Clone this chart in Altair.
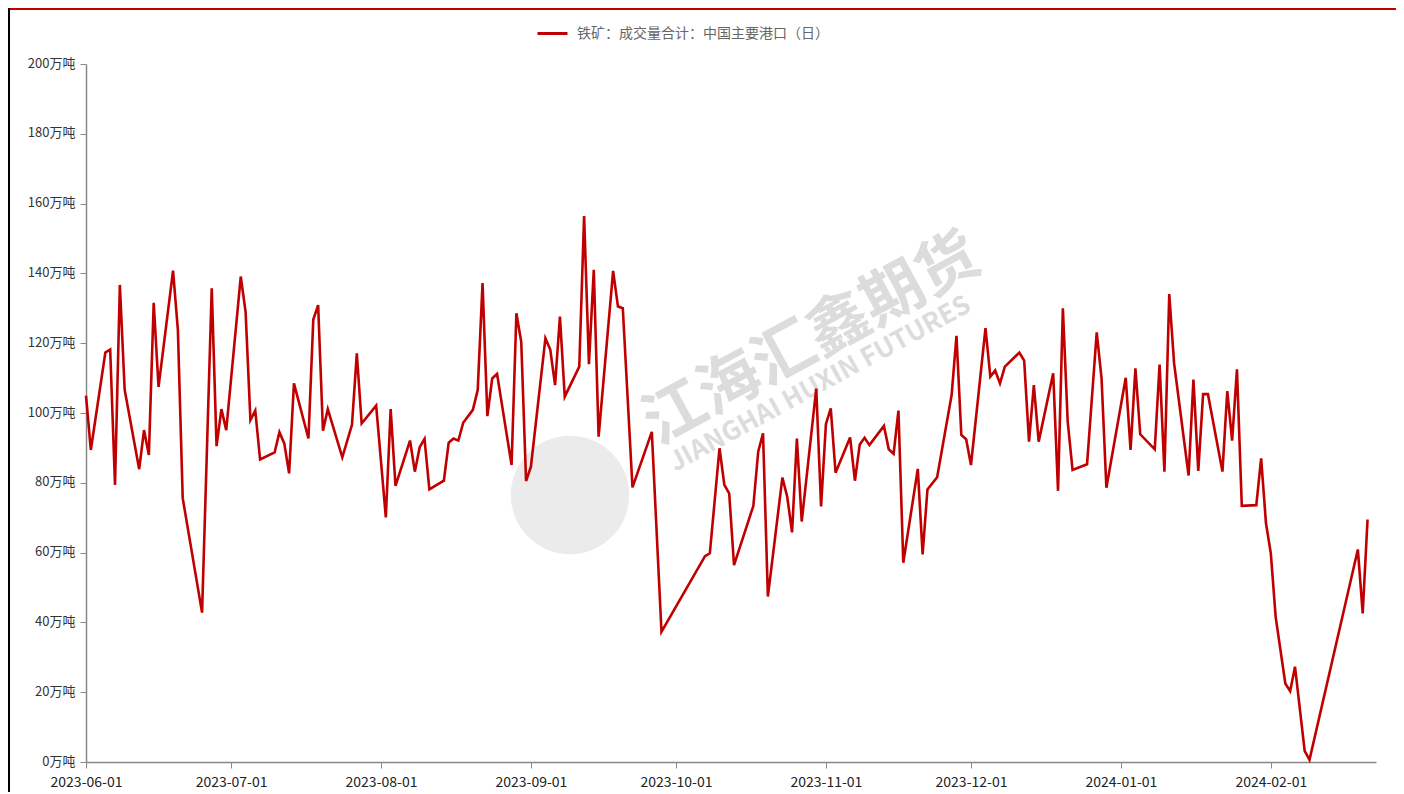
import altair as alt
import pandas as pd

# ---------------- data ----------------
series_name = "铁矿：成交量合计：中国主要港口（日）"

dates = [
    "2023-06-01", "2023-06-02", "2023-06-05", "2023-06-06", "2023-06-07", "2023-06-08", "2023-06-09",
    "2023-06-12", "2023-06-13", "2023-06-14", "2023-06-15", "2023-06-16",
    "2023-06-19", "2023-06-20", "2023-06-21", "2023-06-25", "2023-06-27", "2023-06-28", "2023-06-29", "2023-06-30",
    "2023-07-03", "2023-07-04", "2023-07-05", "2023-07-06", "2023-07-07",
    "2023-07-10", "2023-07-11", "2023-07-12", "2023-07-13", "2023-07-14",
    "2023-07-17", "2023-07-18", "2023-07-19", "2023-07-20", "2023-07-21",
    "2023-07-24", "2023-07-26", "2023-07-27", "2023-07-28", "2023-07-31",
    "2023-08-02", "2023-08-03", "2023-08-04",
    "2023-08-07", "2023-08-08", "2023-08-09", "2023-08-10", "2023-08-11",
    "2023-08-14", "2023-08-15", "2023-08-16", "2023-08-17", "2023-08-18", "2023-08-20",
    "2023-08-21", "2023-08-22", "2023-08-23", "2023-08-24", "2023-08-25",
    "2023-08-28", "2023-08-29", "2023-08-30", "2023-08-31",
    "2023-09-01", "2023-09-04", "2023-09-05", "2023-09-06", "2023-09-07", "2023-09-08",
    "2023-09-11", "2023-09-12", "2023-09-13", "2023-09-14", "2023-09-15",
    "2023-09-18", "2023-09-19", "2023-09-20", "2023-09-22", "2023-09-26", "2023-09-28",
    "2023-10-07", "2023-10-08", "2023-10-10", "2023-10-11", "2023-10-12", "2023-10-13",
    "2023-10-17", "2023-10-18", "2023-10-19", "2023-10-20",
    "2023-10-23", "2023-10-24", "2023-10-25", "2023-10-26", "2023-10-27",
    "2023-10-30", "2023-10-31",
    "2023-11-01", "2023-11-02", "2023-11-03",
    "2023-11-06", "2023-11-07", "2023-11-08", "2023-11-09", "2023-11-10",
    "2023-11-13", "2023-11-14", "2023-11-15", "2023-11-16", "2023-11-17",
    "2023-11-20", "2023-11-21", "2023-11-22", "2023-11-24",
    "2023-11-27", "2023-11-28", "2023-11-29", "2023-11-30",
    "2023-12-01", "2023-12-04", "2023-12-05", "2023-12-06", "2023-12-07", "2023-12-08",
    "2023-12-11", "2023-12-12", "2023-12-13", "2023-12-14", "2023-12-15",
    "2023-12-18", "2023-12-19", "2023-12-20", "2023-12-21", "2023-12-22",
    "2023-12-25", "2023-12-27", "2023-12-28", "2023-12-29",
    "2024-01-02", "2024-01-03", "2024-01-04", "2024-01-05",
    "2024-01-08", "2024-01-09", "2024-01-10", "2024-01-11", "2024-01-12",
    "2024-01-15", "2024-01-16", "2024-01-17", "2024-01-18", "2024-01-19",
    "2024-01-22", "2024-01-23", "2024-01-24", "2024-01-25", "2024-01-26",
    "2024-01-29", "2024-01-30", "2024-01-31",
    "2024-02-01", "2024-02-02", "2024-02-04", "2024-02-05", "2024-02-06", "2024-02-08", "2024-02-09",
    "2024-02-19", "2024-02-20", "2024-02-21",
]

values = [
    # 2023-06
    105.0, 89.4, 117.3, 118.2, 79.4, 136.7, 106.6, 83.9, 95.1, 88.0, 131.6, 107.5,
    140.8, 123.8, 75.6, 42.8, 135.7, 90.5, 101.1, 95.1,
    # 2023-07
    139.1, 129.0, 98.0, 100.7, 86.7, 88.7, 94.5, 91.3, 82.7, 108.5,
    92.7, 126.8, 130.9, 94.9, 101.1, 87.3, 96.6, 117.1, 97.0, 102.1,
    # 2023-08
    70.1, 101.1, 79.1, 92.1, 83.2, 90.2, 92.6, 78.1, 80.6, 91.5, 92.7, 92.1, 97.2, 100.9,
    106.6, 137.2, 99.1, 109.9, 111.2, 85.1, 128.6, 120.4, 80.5,
    # 2023-09
    84.6, 121.4, 118.2, 108.0, 127.6, 104.7, 113.3, 156.4, 114.0, 141.0, 93.2,
    140.7, 130.5, 130.0, 78.7, 94.6, 37.3,
    # 2023-10
    59.0, 59.8, 89.9, 79.4, 77.0, 56.4, 73.4, 88.9, 94.2, 47.4,
    81.5, 76.0, 65.8, 92.7, 68.9, 107.0, 73.2,
    # 2023-11
    96.8, 101.3, 82.9, 93.0, 80.6, 91.0, 92.9, 90.8, 96.3, 89.6, 88.3, 100.7, 57.1,
    84.0, 59.5, 78.1, 81.6, 105.2, 122.1, 93.7, 92.5,
    # 2023-12
    85.1, 124.3, 110.4, 112.2, 108.5, 113.3, 117.3, 115.0, 91.8, 108.0, 91.8,
    111.4, 77.7, 130.0, 97.5, 83.7, 85.3, 123.1, 109.9, 78.6,
    # 2024-01
    110.1, 89.4, 112.8, 93.9, 89.6, 113.9, 83.2, 134.1, 114.2, 82.1, 109.6, 83.4,
    105.4, 105.4, 83.2, 106.3, 92.1, 112.5, 73.4, 73.6, 87.0, 68.4,
    # 2024-02
    59.8, 41.6, 22.5, 20.3, 27.3, 3.2, 0.6, 60.9, 42.6, 69.5,
]

y_ticks = [0, 20, 40, 60, 80, 100, 120, 140, 160, 180, 200]
x_tick_dates = [(2023, 6), (2023, 7), (2023, 8), (2023, 9), (2023, 10),
                (2023, 11), (2023, 12), (2024, 1), (2024, 2)]

watermark_cn = "江海汇鑫期货"
watermark_en = "JIANGHAI HUXIN FUTURES"

# ---------------- chart ----------------
df = pd.DataFrame({"date": pd.to_datetime(dates), "value": values, "series": series_name})

W, H = 1290, 698
TOP = 56
FONT = "Noto Sans CJK SC"
RED = "#C00000"

x_enc = alt.X(
    "date:T",
    scale=alt.Scale(
        domain=[alt.DateTime(year=2023, month=6, date=1),
                alt.DateTime(year=2024, month=2, date=22, hours=18)],
        nice=False,
    ),
    axis=alt.Axis(
        values=[alt.DateTime(year=y, month=m, date=1) for y, m in x_tick_dates],
        format="%Y-%m-%d",
        title=None,
        grid=False,
        labelFont=FONT,
        labelFontSize=14,
        labelColor="#222222",
        labelAlign="center",
        labelPadding=7,
        tickSize=6,
        tickColor="#888888",
        domainColor="#888888",
        domainWidth=1.5,
    ),
)

y_enc = alt.Y(
    "value:Q",
    scale=alt.Scale(domain=[0, 200], nice=False),
    axis=alt.Axis(
        values=y_ticks,
        labelExpr="datum.value + '万吨'",
        title=None,
        grid=False,
        labelFont=FONT,
        labelFontSize=13,
        labelColor="#333333",
        labelPadding=5,
        labelOffset=-1,
        tickSize=6,
        tickColor="#888888",
        domainColor="#888888",
        domainWidth=1.5,
    ),
)

line = alt.Chart(df).mark_line(strokeWidth=2.6).encode(
    x=x_enc,
    y=y_enc,
    color=alt.Color(
        "series:N",
        scale=alt.Scale(range=[RED]),
        legend=alt.Legend(
            title=None,
            orient="none",
            legendX=450,
            legendY=-47,
            direction="horizontal",
            symbolType="stroke",
            symbolSize=900,
            symbolStrokeWidth=3,
            labelFont=FONT,
            labelFontSize=14,
            labelColor="#666666",
            labelOffset=8,
            labelLimit=0,
            padding=0,
        ),
    ),
)

wm_logo = alt.Chart(pd.DataFrame({"k": [1]})).mark_point(
    shape="circle", filled=True, size=14000, color="#ebebeb", opacity=1
).encode(x=alt.value(484), y=alt.value(431))

wm_cn = alt.Chart(pd.DataFrame({"t": [watermark_cn]})).mark_text(
    font=FONT, fontSize=62, fontWeight="bold", color="#dcdcdc", angle=331.5,
    align="center", baseline="middle",
).encode(x=alt.value(726), y=alt.value(276), text="t:N")

wm_en = alt.Chart(pd.DataFrame({"t": [watermark_en]})).mark_text(
    font=FONT, fontSize=26, fontWeight="bold", color="#dcdcdc", angle=331.5,
    align="center", baseline="middle",
).encode(x=alt.value(734), y=alt.value(320), text="t:N")

top_border = alt.Chart(pd.DataFrame({"k": [1]})).mark_rule(color=RED, strokeWidth=2).encode(
    x=alt.value(-78), x2=alt.value(W + 20), y=alt.value(-TOP + 1)
)
left_border = alt.Chart(pd.DataFrame({"k": [1]})).mark_rule(color="#000000", strokeWidth=2).encode(
    x=alt.value(-77), y=alt.value(-TOP), y2=alt.value(H + 30)
)

chart = alt.layer(wm_logo, wm_cn, wm_en, line, top_border, left_border).properties(
    width=W,
    height=H,
    padding={"left": 78, "top": TOP, "right": 20, "bottom": 30},
    autosize=alt.AutoSizeParams(type="none"),
).configure_view(stroke=None)

chart.save("out.html", embed_options={"renderer": "svg", "actions": False})
